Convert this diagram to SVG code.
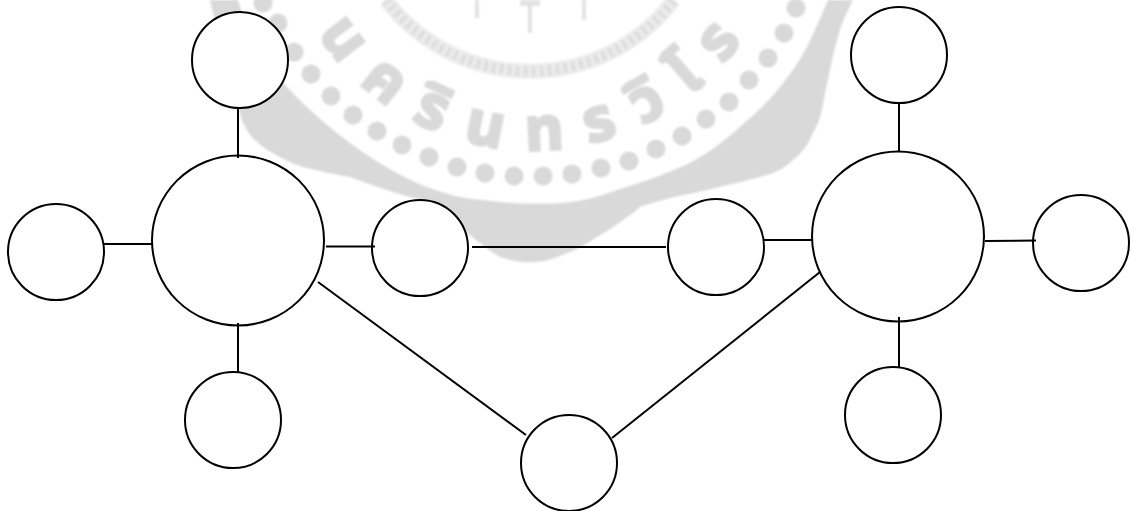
<svg xmlns="http://www.w3.org/2000/svg" width="1131" height="511" viewBox="0 0 1131 511">
<style>
.n{fill:#fff;stroke:#000;stroke-width:2}
.c{fill:none;stroke:#000;stroke-width:2}
.w{fill:#d9d9d9}
</style>
<defs>
<path id="arc" d="M318,34 A255,255 0 0 0 752,24"/>
<filter id="soft" x="-5%" y="-5%" width="110%" height="110%"><feGaussianBlur stdDeviation="0.8"/></filter>
</defs>
<rect width="1131" height="511" fill="#fff"/>
<g id="watermark" filter="url(#soft)">
<path class="w" d="M210,0 L238,0 C248,35 265,65 287,87 C310,112 340,137 370,157 C405,180 445,198 483,200 C510,204 540,204 563,203 C585,201 600,196 617,190 C650,180 670,172 690,163 C710,152 725,140 740,127 C755,114 768,102 780,87 C792,72 800,60 807,47 C815,30 822,15 828,0 L853,0 C845,15 840,28 837,40 C832,58 829,75 825,93 C822,110 820,122 813,133 C808,145 802,153 793,160 C787,166 780,170 773,173 C752,180 730,184 707,190 C683,195 660,200 640,207 L633,213 C620,222 608,231 597,237 C586,244 577,250 567,253 C556,258 545,262 533,262 C520,263 510,260 500,257 C488,250 478,241 467,233 C455,222 443,210 430,203 C423,200 417,198 410,197 C390,192 370,184 350,177 C333,174 318,171 303,167 C288,162 275,155 263,147 C255,141 250,136 247,130 C243,124 241,118 240,113 C230,75 218,35 210,0Z"/>
<path d="M386,0 A181,181 0 0 0 674,0" fill="none" stroke="#ececec" stroke-width="15"/>
<path d="M386,0 A181,181 0 0 0 674,0" fill="none" stroke="#dedede" stroke-width="10" stroke-dasharray="4 4"/>
<path d="M477,0V18M530,0V33M584,0V20" fill="none" stroke="#e2e2e2" stroke-width="4"/>
<path d="M520,3H540" fill="none" stroke="#e2e2e2" stroke-width="6"/>
<g class="w">
<circle cx="263" cy="3" r="9.500"/><circle cx="278" cy="23" r="9.500"/><circle cx="294" cy="52" r="9.500"/><circle cx="311" cy="74" r="9.500"/><circle cx="331" cy="96" r="9.500"/><circle cx="353" cy="115" r="9.500"/><circle cx="377" cy="131" r="9.500"/><circle cx="402" cy="145" r="9.500"/><circle cx="429" cy="157" r="9.500"/><circle cx="457" cy="167" r="9.500"/><circle cx="485" cy="173" r="9.500"/><circle cx="514" cy="176" r="9.500"/><circle cx="543" cy="176" r="9.500"/><circle cx="572" cy="174" r="9.500"/><circle cx="601" cy="168" r="9.500"/><circle cx="629" cy="161" r="9.500"/><circle cx="656" cy="149" r="9.500"/><circle cx="682" cy="136" r="9.500"/><circle cx="706" cy="119" r="9.500"/><circle cx="729" cy="102" r="9.500"/><circle cx="749" cy="80" r="9.500"/><circle cx="768" cy="58" r="9.500"/><circle cx="784" cy="33" r="9.500"/><circle cx="796" cy="8" r="9.500"/>
</g>
<text class="w" stroke="#d9d9d9" stroke-width="3" font-family="'Noto Sans Thai','Noto Sans','DejaVu Sans',sans-serif" font-size="60" font-weight="700"><textPath href="#arc" textLength="500" lengthAdjust="spacing">นครินทรวิโร</textPath></text>
</g>
<g id="nodes">
<g id="n1"><circle class="n" cx="240" cy="60" r="48"/></g>
<g id="n2"><ellipse class="n" cx="238" cy="240.5" rx="86" ry="85"/></g>
<g id="n3"><circle class="n" cx="56" cy="252" r="48"/></g>
<g id="n4"><circle class="n" cx="420" cy="248" r="48"/></g>
<g id="n5"><circle class="n" cx="233" cy="420" r="48"/></g>
<g id="n6"><circle class="n" cx="569" cy="463" r="48"/></g>
<g id="n7"><circle class="n" cx="716" cy="247" r="48"/></g>
<g id="n8"><ellipse class="n" cx="898" cy="236.5" rx="86" ry="85"/></g>
<g id="n9"><circle class="n" cx="899" cy="55" r="48"/></g>
<g id="n10"><circle class="n" cx="1081" cy="243" r="48"/></g>
<g id="n11"><circle class="n" cx="893" cy="415" r="48"/></g>
</g>
<g id="connectors">
<path class="c" d="M238,108V158"/>
<path class="c" d="M104,244H152"/>
<path class="c" d="M326,246.500H375"/>
<path class="c" d="M238,323V372"/>
<path class="c" d="M472,247H666"/>
<path class="c" d="M764,240H812"/>
<path class="c" d="M985,241L1036,240.500"/>
<path class="c" d="M899,103V152"/>
<path class="c" d="M899,317V367"/>
<path class="c" d="M318,282L526,435"/>
<path class="c" d="M612,438L820,272"/>
</g>
</svg>
